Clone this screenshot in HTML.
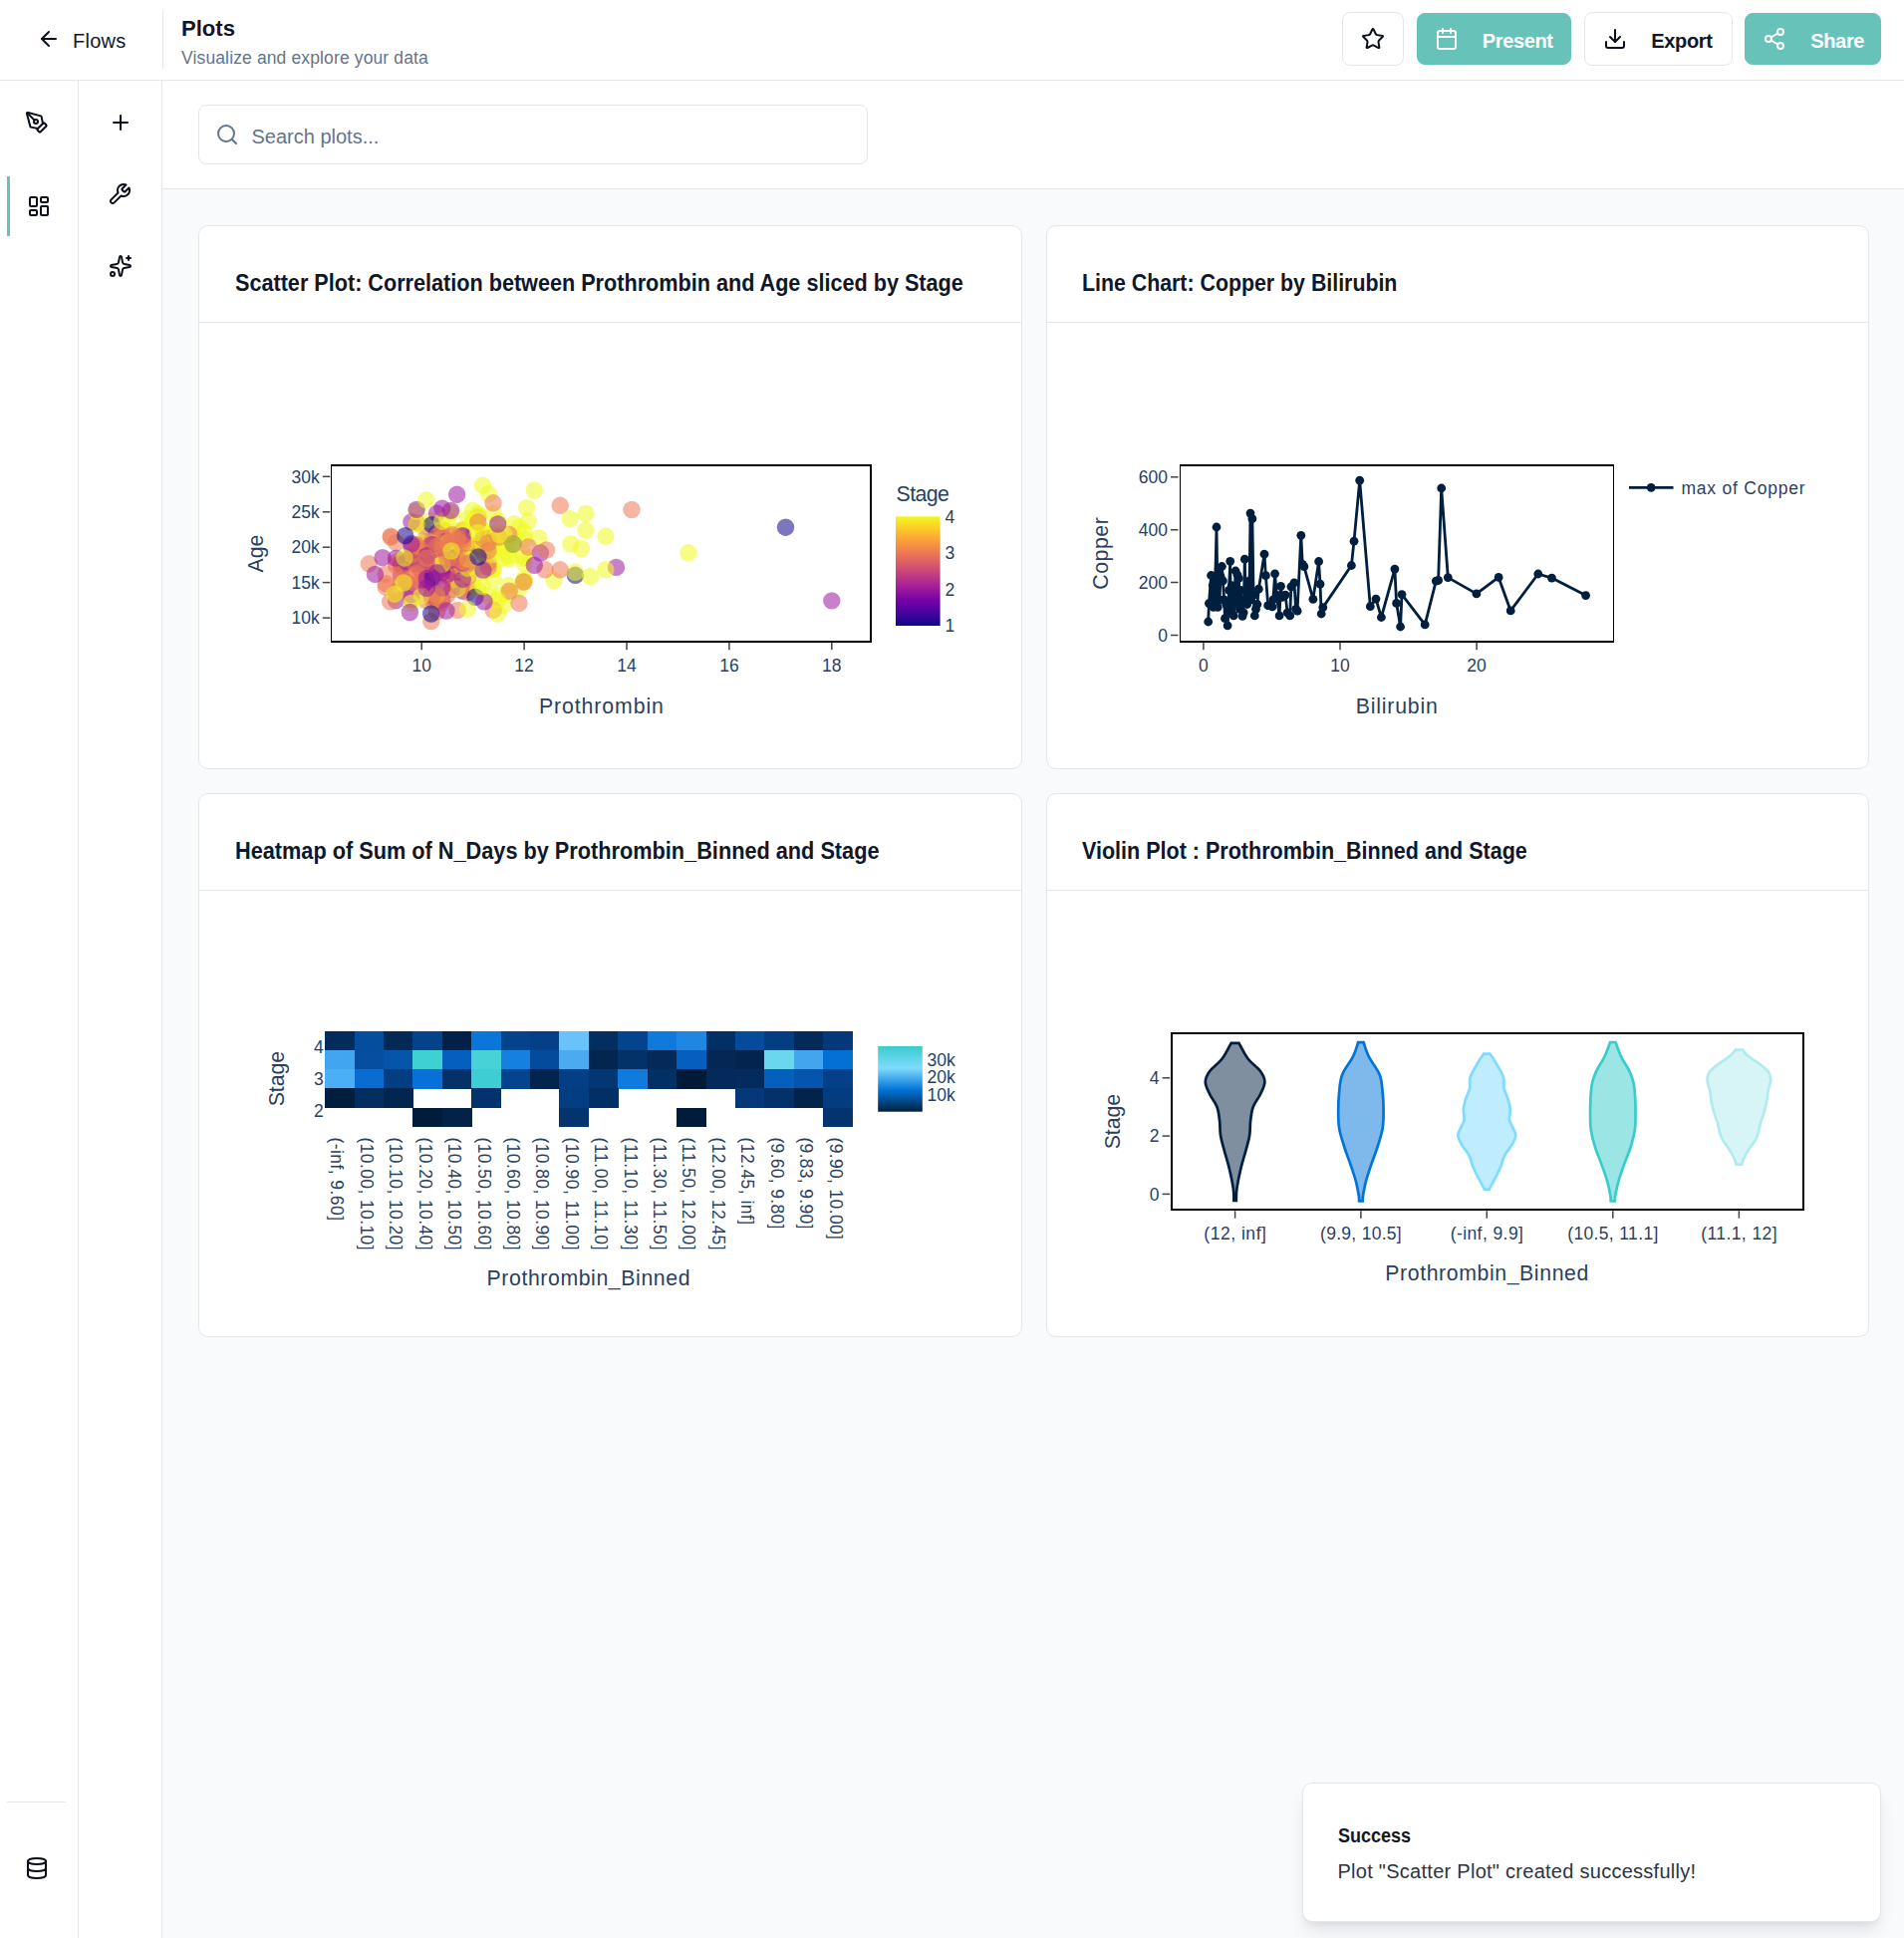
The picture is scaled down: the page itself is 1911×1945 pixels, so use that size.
<!DOCTYPE html>
<html lang="en">
<head>
<meta charset="utf-8">
<title>Plots</title>
<style>
*{box-sizing:border-box;margin:0;padding:0}
html,body{width:1911px;height:1945px;overflow:hidden}
body{position:relative;background:#f9fafb;color:#0f172a;font-family:"Liberation Sans",Arial,sans-serif;-webkit-font-smoothing:antialiased}
.ic{position:absolute;display:block}
.top{position:absolute;left:0;top:0;width:1911px;height:81px;background:#fff;border-bottom:1.25px solid #e5e6e9;z-index:5}
.flows{position:absolute;left:73px;top:29px;font-size:20px;line-height:24px;color:#0f172a;letter-spacing:.27px}
.vdiv{position:absolute;left:163px;top:10px;width:1.25px;height:59px;background:#e5e6e9}
.ptitle{position:absolute;left:181.5px;top:15px;transform-origin:0 50%;transform:scaleX(.98);font-size:22.5px;line-height:28px;font-weight:700;color:#0f172a}
.psub{position:absolute;left:182px;top:47px;font-size:17.5px;line-height:22px;color:#64748b;letter-spacing:.13px;white-space:nowrap}
.btn{position:absolute;top:12px;height:54px;border-radius:8px;font-family:inherit;cursor:pointer}
.btn.ghost{background:#fff;border:1.25px solid #e5e6e9;color:#0f172a}
.btn.teal{background:#67c3b9;border:1.25px solid #67c3b9;color:#fff;top:12.6px;height:52.8px}
.btn.teal .ic{margin-top:-1.85px}
.btn.teal .bl{margin-top:-.6px}
.btn .ic{margin-left:-1.25px;margin-top:-1.25px}
.bl{position:absolute;top:15.7px;font-size:20px;line-height:24px;font-weight:700;white-space:nowrap;margin-left:-1.25px;letter-spacing:-.35px}
.rail{position:absolute;top:81px;height:1864px;background:#fff;border-right:1.25px solid #e5e6e9}
.rail .ic{margin-top:-81px}
.r1{left:0;width:79px}
.r2{left:79px;width:84px}
.active{position:absolute;left:7px;top:96px;width:3px;height:60px;background:#67c3b9}
.sep{position:absolute;left:7px;top:1727px;width:59px;height:1.25px;background:#e5e6e9}
.toolbar{position:absolute;left:163px;top:81px;width:1748px;height:109px;background:#fff;border-bottom:1.25px solid #e5e6e9}
.search{position:absolute;left:36px;top:24px;width:671.5px;height:60px;border:1.25px solid #e5e6e9;border-radius:8px;background:#fff}
.search .ic{margin-left:-1.25px;margin-top:-1.25px}
.ph{position:absolute;left:52.5px;top:18.6px;font-size:20px;line-height:24px;color:#64748b;white-space:nowrap}
.card{position:absolute;width:826.5px;height:546px;background:#fff;border:1.25px solid #e5e6e9;border-radius:10px;overflow:hidden}
.ctitle{position:absolute;left:35.5px;top:42.9px;transform-origin:0 50%;font-size:23px;line-height:28px;font-weight:700;color:#0f172a;white-space:nowrap}
.chead{position:absolute;left:0;top:96px;width:100%;height:1.25px;background:#e5e6e9}
.card svg.plot{position:absolute;left:-1.25px;top:-1.25px;width:826.5px;height:546px;font-family:"Liberation Sans",Arial,sans-serif}
.toast{position:absolute;left:1306.5px;top:1789px;width:581.5px;height:139.5px;background:#fff;border:1.25px solid #e5e6e9;border-radius:10px;box-shadow:0 12px 18px -4px rgba(15,23,42,.10),0 5px 8px -5px rgba(15,23,42,.10)}
.tt{position:absolute;left:35px;top:39.5px;font-size:20px;line-height:24px;font-weight:700;color:#0f172a;transform-origin:0 50%;transform:scaleX(.9)}
.td{position:absolute;left:35px;top:76px;font-size:20px;line-height:24px;color:#2b3342;white-space:nowrap;letter-spacing:.27px}

</style>
</head>
<body>
<header class="top">
<svg class="ic" style="left:37.00px;top:27.20px;width:24px;height:24px" viewBox="0 0 24 24" fill="none" stroke="#0b0f1a" stroke-width="2" stroke-linecap="round" stroke-linejoin="round"><path d="m12 19-7-7 7-7"/><path d="M19 12H5"/></svg>
<span class="flows">Flows</span>
<div class="vdiv"></div>
<h1 class="ptitle">Plots</h1>
<p class="psub">Visualize and explore your data</p>
<button class="btn ghost" style="left:1347px;width:62px"><svg class="ic" style="left:19.00px;top:15.60px;width:24px;height:24px" viewBox="0 0 24 24" fill="none" stroke="#0b0f1a" stroke-width="2" stroke-linecap="round" stroke-linejoin="round"><path d="M11.525 2.295a.53.53 0 0 1 .95 0l2.31 4.679a2.123 2.123 0 0 0 1.595 1.16l5.166.756a.53.53 0 0 1 .294.904l-3.736 3.638a2.123 2.123 0 0 0-.611 1.878l.882 5.14a.53.53 0 0 1-.771.56l-4.618-2.428a2.122 2.122 0 0 0-1.973 0L6.396 21.01a.53.53 0 0 1-.77-.56l.881-5.139a2.122 2.122 0 0 0-.611-1.879L2.16 9.795a.53.53 0 0 1 .294-.906l5.165-.755a2.122 2.122 0 0 0 1.597-1.16z"/></svg></button>
<button class="btn teal" style="left:1422px;width:155px"><svg class="ic" style="left:18.00px;top:15.60px;width:24px;height:24px" viewBox="0 0 24 24" fill="none" stroke="#fff" stroke-width="2" stroke-linecap="round" stroke-linejoin="round"><path d="M8 2v4"/><path d="M16 2v4"/><rect width="18" height="18" x="3" y="4" rx="2"/><path d="M3 10h18"/></svg><span class="bl" style="left:66px">Present</span></button>
<button class="btn ghost" style="left:1590px;width:149px"><svg class="ic" style="left:19.00px;top:15.60px;width:24px;height:24px" viewBox="0 0 24 24" fill="none" stroke="#0b0f1a" stroke-width="2" stroke-linecap="round" stroke-linejoin="round"><path d="M21 15v4a2 2 0 0 1-2 2H5a2 2 0 0 1-2-2v-4"/><path d="m7 10 5 5 5-5"/><path d="M12 15V3"/></svg><span class="bl" style="left:67.5px">Export</span></button>
<button class="btn teal" style="left:1751px;width:137px"><svg class="ic" style="left:18.00px;top:15.60px;width:24px;height:24px" viewBox="0 0 24 24" fill="none" stroke="#fff" stroke-width="2" stroke-linecap="round" stroke-linejoin="round"><circle cx="18" cy="5" r="3"/><circle cx="6" cy="12" r="3"/><circle cx="18" cy="19" r="3"/><path d="m8.59 13.51 6.83 3.98"/><path d="m15.41 6.51-6.82 3.98"/></svg><span class="bl" style="left:66.5px">Share</span></button>
</header>
<aside class="rail r1">
<svg class="ic" style="left:25.00px;top:111.00px;width:24px;height:24px" viewBox="0 0 24 24" fill="none" stroke="#0b0f1a" stroke-width="2" stroke-linecap="round" stroke-linejoin="round"><path d="M15.707 21.293a1 1 0 0 1-1.414 0l-1.586-1.586a1 1 0 0 1 0-1.414l5.586-5.586a1 1 0 0 1 1.414 0l1.586 1.586a1 1 0 0 1 0 1.414z"/><path d="m18 13-1.375-6.874a1 1 0 0 0-.746-.776L3.235 2.028a1 1 0 0 0-1.207 1.207L5.35 15.879a1 1 0 0 0 .776.746L13 18"/><path d="m2.3 2.3 7.286 7.286"/><circle cx="11" cy="11" r="2"/></svg>
<div class="active"></div>
<svg class="ic" style="left:27.00px;top:195.00px;width:24px;height:24px" viewBox="0 0 24 24" fill="none" stroke="#0b0f1a" stroke-width="2" stroke-linecap="round" stroke-linejoin="round"><rect width="7" height="9" x="3" y="3" rx="1"/><rect width="7" height="5" x="14" y="3" rx="1"/><rect width="7" height="9" x="14" y="12" rx="1"/><rect width="7" height="5" x="3" y="16" rx="1"/></svg>
<div class="sep"></div>
<svg class="ic" style="left:25.00px;top:1863.00px;width:24px;height:24px" viewBox="0 0 24 24" fill="none" stroke="#0b0f1a" stroke-width="2" stroke-linecap="round" stroke-linejoin="round"><ellipse cx="12" cy="5" rx="9" ry="3"/><path d="M3 5V19A9 3 0 0 0 21 19V5"/><path d="M3 12A9 3 0 0 0 21 12"/></svg>
</aside>
<aside class="rail r2">
<svg class="ic" style="left:30.00px;top:111.00px;width:24px;height:24px" viewBox="0 0 24 24" fill="none" stroke="#0b0f1a" stroke-width="2" stroke-linecap="round" stroke-linejoin="round"><path d="M5 12h14"/><path d="M12 5v14"/></svg>
<svg class="ic" style="left:29.30px;top:183.20px;width:24px;height:24px" viewBox="0 0 24 24" fill="none" stroke="#0b0f1a" stroke-width="2" stroke-linecap="round" stroke-linejoin="round"><path d="M14.7 6.3a1 1 0 0 0 0 1.4l1.6 1.6a1 1 0 0 0 1.4 0l3.77-3.77a6 6 0 0 1-7.94 7.94l-6.91 6.91a2.12 2.12 0 0 1-3-3l6.91-6.91a6 6 0 0 1 7.94-7.94l-3.76 3.76z"/></svg>
<svg class="ic" style="left:30.00px;top:255.20px;width:24px;height:24px" viewBox="0 0 24 24" fill="none" stroke="#0b0f1a" stroke-width="2" stroke-linecap="round" stroke-linejoin="round"><path d="M11.017 2.814a1 1 0 0 1 1.966 0l1.051 5.558a2 2 0 0 0 1.594 1.594l5.558 1.051a1 1 0 0 1 0 1.966l-5.558 1.051a2 2 0 0 0-1.594 1.594l-1.051 5.558a1 1 0 0 1-1.966 0l-1.051-5.558a2 2 0 0 0-1.594-1.594l-5.558-1.051a1 1 0 0 1 0-1.966l5.558-1.051a2 2 0 0 0 1.594-1.594z"/><path d="M20 2v4"/><path d="M22 4h-4"/><circle cx="4" cy="20" r="2"/></svg>
</aside>
<div class="toolbar">
<div class="search"><svg class="ic" style="left:17.50px;top:18.00px;width:24px;height:24px" viewBox="0 0 24 24" fill="none" stroke="#64748b" stroke-width="2" stroke-linecap="round" stroke-linejoin="round"><circle cx="11" cy="11" r="8"/><path d="m21 21-4.3-4.3"/></svg><span class="ph">Search plots...</span></div>
</div>
<main>
<section class="card" style="left:199px;top:226px">
<h3 class="ctitle" style="transform:scaleX(0.94)">Scatter Plot: Correlation between Prothrombin and Age sliced by Stage</h3>
<div class="chead"></div>
<svg class="plot" viewBox="0 0 826.5 546" role="img" aria-label="Scatter plot of Age against Prothrombin coloured by Stage"><g transform="translate(-199,-226)"><clipPath id="sc"><rect x="332.5" y="467" width="541.8" height="176.60000000000002"/></clipPath><g clip-path="url(#sc)" fill-opacity="0.55"><circle cx="454.1" cy="564.7" r="8.7" fill="#f0f921"/><circle cx="505.5" cy="560.1" r="8.7" fill="#f0f921"/><circle cx="526.1" cy="583.1" r="8.7" fill="#f0f921"/><circle cx="407.8" cy="571.4" r="8.7" fill="#f0f921"/><circle cx="505.5" cy="607.3" r="8.7" fill="#f0f921"/><circle cx="464.4" cy="540.3" r="8.7" fill="#f0f921"/><circle cx="500.4" cy="523.2" r="8.7" fill="#f0f921"/><circle cx="510.7" cy="596.2" r="8.7" fill="#f0f921"/><circle cx="495.2" cy="515.5" r="8.7" fill="#f0f921"/><circle cx="464.4" cy="555.3" r="8.7" fill="#f0f921"/><circle cx="521" cy="590.7" r="8.7" fill="#f0f921"/><circle cx="464.4" cy="533" r="8.7" fill="#f0f921"/><circle cx="495.2" cy="570.7" r="8.7" fill="#f0f921"/><circle cx="464.4" cy="553.9" r="8.7" fill="#f0f921"/><circle cx="495.2" cy="571.6" r="8.7" fill="#f0f921"/><circle cx="454.1" cy="584.6" r="8.7" fill="#ed7953"/><circle cx="474.6" cy="571.9" r="8.7" fill="#ed7953"/><circle cx="448.9" cy="532.8" r="8.7" fill="#f0f921"/><circle cx="515.8" cy="539.1" r="8.7" fill="#f0f921"/><circle cx="443.8" cy="558.5" r="8.7" fill="#f0f921"/><circle cx="464.4" cy="565.6" r="8.7" fill="#ed7953"/><circle cx="438.6" cy="562.1" r="8.7" fill="#ed7953"/><circle cx="423.2" cy="588.3" r="8.7" fill="#ed7953"/><circle cx="428.3" cy="572.1" r="8.7" fill="#9c179e"/><circle cx="443.8" cy="544.4" r="8.7" fill="#ed7953"/><circle cx="454.1" cy="591.5" r="8.7" fill="#ed7953"/><circle cx="464.4" cy="593.2" r="8.7" fill="#9c179e"/><circle cx="454.1" cy="571.2" r="8.7" fill="#ed7953"/><circle cx="484.9" cy="540" r="8.7" fill="#f0f921"/><circle cx="443.8" cy="552.5" r="8.7" fill="#ed7953"/><circle cx="479.8" cy="548.9" r="8.7" fill="#ed7953"/><circle cx="510.7" cy="544.4" r="8.7" fill="#f0f921"/><circle cx="464.4" cy="531.9" r="8.7" fill="#ed7953"/><circle cx="397.5" cy="564.7" r="8.7" fill="#ed7953"/><circle cx="402.6" cy="565.3" r="8.7" fill="#9c179e"/><circle cx="526.1" cy="534.4" r="8.7" fill="#f0f921"/><circle cx="490.1" cy="536.8" r="8.7" fill="#f0f921"/><circle cx="500.4" cy="547.7" r="8.7" fill="#f0f921"/><circle cx="402.6" cy="576.6" r="8.7" fill="#9c179e"/><circle cx="490.1" cy="544.8" r="8.7" fill="#f0f921"/><circle cx="423.2" cy="572.1" r="8.7" fill="#9c179e"/><circle cx="526.1" cy="580.6" r="8.7" fill="#f0f921"/><circle cx="495.2" cy="544.5" r="8.7" fill="#f0f921"/><circle cx="443.8" cy="550.5" r="8.7" fill="#9c179e"/><circle cx="474.6" cy="586.8" r="8.7" fill="#f0f921"/><circle cx="433.5" cy="522.2" r="8.7" fill="#f0f921"/><circle cx="526.1" cy="583.3" r="8.7" fill="#f0f921"/><circle cx="510.7" cy="587.7" r="8.7" fill="#f0f921"/><circle cx="428.3" cy="557.5" r="8.7" fill="#9c179e"/><circle cx="526.1" cy="560.1" r="8.7" fill="#f0f921"/><circle cx="459.2" cy="581.2" r="8.7" fill="#f0f921"/><circle cx="459.2" cy="566.1" r="8.7" fill="#0d0887"/><circle cx="459.2" cy="575.6" r="8.7" fill="#9c179e"/><circle cx="484.9" cy="574.5" r="8.7" fill="#f0f921"/><circle cx="412.9" cy="559" r="8.7" fill="#9c179e"/><circle cx="433.5" cy="591.8" r="8.7" fill="#ed7953"/><circle cx="526.1" cy="541" r="8.7" fill="#f0f921"/><circle cx="459.2" cy="557.6" r="8.7" fill="#ed7953"/><circle cx="464.4" cy="573.4" r="8.7" fill="#ed7953"/><circle cx="479.8" cy="530.5" r="8.7" fill="#f0f921"/><circle cx="459.2" cy="564.2" r="8.7" fill="#9c179e"/><circle cx="454.1" cy="555.1" r="8.7" fill="#f0f921"/><circle cx="490.1" cy="539.5" r="8.7" fill="#f0f921"/><circle cx="392.3" cy="539.1" r="8.7" fill="#ed7953"/><circle cx="469.5" cy="589.4" r="8.7" fill="#ed7953"/><circle cx="443.8" cy="571.3" r="8.7" fill="#ed7953"/><circle cx="402.6" cy="583" r="8.7" fill="#ed7953"/><circle cx="423.2" cy="526.8" r="8.7" fill="#f0f921"/><circle cx="428.3" cy="572.1" r="8.7" fill="#9c179e"/><circle cx="454.1" cy="574.6" r="8.7" fill="#f0f921"/><circle cx="433.5" cy="545.5" r="8.7" fill="#ed7953"/><circle cx="407.8" cy="590" r="8.7" fill="#9c179e"/><circle cx="428.3" cy="543.1" r="8.7" fill="#ed7953"/><circle cx="459.2" cy="588.6" r="8.7" fill="#9c179e"/><circle cx="438.6" cy="567" r="8.7" fill="#ed7953"/><circle cx="412.9" cy="601.5" r="8.7" fill="#ed7953"/><circle cx="448.9" cy="578.2" r="8.7" fill="#ed7953"/><circle cx="428.3" cy="538.1" r="8.7" fill="#ed7953"/><circle cx="469.5" cy="581.1" r="8.7" fill="#ed7953"/><circle cx="454.1" cy="582.2" r="8.7" fill="#ed7953"/><circle cx="490.1" cy="553.9" r="8.7" fill="#f0f921"/><circle cx="438.6" cy="599.3" r="8.7" fill="#ed7953"/><circle cx="448.9" cy="576" r="8.7" fill="#9c179e"/><circle cx="464.4" cy="552.1" r="8.7" fill="#ed7953"/><circle cx="412.9" cy="596.5" r="8.7" fill="#9c179e"/><circle cx="469.5" cy="546.2" r="8.7" fill="#f0f921"/><circle cx="510.7" cy="551.2" r="8.7" fill="#f0f921"/><circle cx="464.4" cy="561.6" r="8.7" fill="#f0f921"/><circle cx="423.2" cy="564.3" r="8.7" fill="#9c179e"/><circle cx="443.8" cy="601.9" r="8.7" fill="#9c179e"/><circle cx="438.6" cy="515.2" r="8.7" fill="#9c179e"/><circle cx="510.7" cy="547.2" r="8.7" fill="#f0f921"/><circle cx="428.3" cy="551.3" r="8.7" fill="#ed7953"/><circle cx="418.1" cy="524.8" r="8.7" fill="#ed7953"/><circle cx="469.5" cy="594.6" r="8.7" fill="#ed7953"/><circle cx="474.6" cy="512.2" r="8.7" fill="#f0f921"/><circle cx="402.6" cy="561.8" r="8.7" fill="#f0f921"/><circle cx="433.5" cy="597" r="8.7" fill="#9c179e"/><circle cx="479.8" cy="548.2" r="8.7" fill="#f0f921"/><circle cx="479.8" cy="547.7" r="8.7" fill="#ed7953"/><circle cx="459.2" cy="542.4" r="8.7" fill="#ed7953"/><circle cx="479.8" cy="518.8" r="8.7" fill="#ed7953"/><circle cx="397.5" cy="602.7" r="8.7" fill="#9c179e"/><circle cx="438.6" cy="534.9" r="8.7" fill="#9c179e"/><circle cx="469.5" cy="545.4" r="8.7" fill="#ed7953"/><circle cx="484.9" cy="538.8" r="8.7" fill="#f0f921"/><circle cx="433.5" cy="526.7" r="8.7" fill="#0d0887"/><circle cx="484.9" cy="553.4" r="8.7" fill="#f0f921"/><circle cx="459.2" cy="563.4" r="8.7" fill="#f0f921"/><circle cx="484.9" cy="532.6" r="8.7" fill="#f0f921"/><circle cx="490.1" cy="565.1" r="8.7" fill="#ed7953"/><circle cx="438.6" cy="538.2" r="8.7" fill="#ed7953"/><circle cx="433.5" cy="559" r="8.7" fill="#9c179e"/><circle cx="484.9" cy="532.2" r="8.7" fill="#f0f921"/><circle cx="521" cy="529.3" r="8.7" fill="#f0f921"/><circle cx="448.9" cy="556.5" r="8.7" fill="#9c179e"/><circle cx="412.9" cy="523.8" r="8.7" fill="#9c179e"/><circle cx="428.3" cy="603" r="8.7" fill="#ed7953"/><circle cx="448.9" cy="544.6" r="8.7" fill="#ed7953"/><circle cx="443.8" cy="552.5" r="8.7" fill="#ed7953"/><circle cx="443.8" cy="531.4" r="8.7" fill="#ed7953"/><circle cx="454.1" cy="561.6" r="8.7" fill="#ed7953"/><circle cx="418.1" cy="526" r="8.7" fill="#f0f921"/><circle cx="526.1" cy="557.5" r="8.7" fill="#f0f921"/><circle cx="407.8" cy="583.7" r="8.7" fill="#ed7953"/><circle cx="459.2" cy="590.6" r="8.7" fill="#f0f921"/><circle cx="490.1" cy="540.3" r="8.7" fill="#ed7953"/><circle cx="443.8" cy="548.4" r="8.7" fill="#9c179e"/><circle cx="443.8" cy="587.9" r="8.7" fill="#ed7953"/><circle cx="443.8" cy="570.2" r="8.7" fill="#9c179e"/><circle cx="515.8" cy="525.8" r="8.7" fill="#f0f921"/><circle cx="454.1" cy="556.3" r="8.7" fill="#ed7953"/><circle cx="443.8" cy="568.4" r="8.7" fill="#9c179e"/><circle cx="484.9" cy="555" r="8.7" fill="#ed7953"/><circle cx="469.5" cy="577" r="8.7" fill="#f0f921"/><circle cx="500.4" cy="597.5" r="8.7" fill="#f0f921"/><circle cx="459.2" cy="553.6" r="8.7" fill="#ed7953"/><circle cx="443.8" cy="604.6" r="8.7" fill="#ed7953"/><circle cx="438.6" cy="578.5" r="8.7" fill="#ed7953"/><circle cx="387.2" cy="589.2" r="8.7" fill="#ed7953"/><circle cx="469.5" cy="564.4" r="8.7" fill="#9c179e"/><circle cx="474.6" cy="523.9" r="8.7" fill="#f0f921"/><circle cx="464.4" cy="536.4" r="8.7" fill="#f0f921"/><circle cx="443.8" cy="561.6" r="8.7" fill="#ed7953"/><circle cx="423.2" cy="582.1" r="8.7" fill="#9c179e"/><circle cx="418.1" cy="586.4" r="8.7" fill="#ed7953"/><circle cx="454.1" cy="514.8" r="8.7" fill="#f0f921"/><circle cx="443.8" cy="538.9" r="8.7" fill="#ed7953"/><circle cx="459.2" cy="567.6" r="8.7" fill="#ed7953"/><circle cx="387.2" cy="585.8" r="8.7" fill="#ed7953"/><circle cx="479.8" cy="515.6" r="8.7" fill="#f0f921"/><circle cx="479.8" cy="517.1" r="8.7" fill="#f0f921"/><circle cx="448.9" cy="557.9" r="8.7" fill="#9c179e"/><circle cx="510.7" cy="561" r="8.7" fill="#f0f921"/><circle cx="423.2" cy="569.5" r="8.7" fill="#ed7953"/><circle cx="464.4" cy="538.3" r="8.7" fill="#9c179e"/><circle cx="448.9" cy="564.8" r="8.7" fill="#ed7953"/><circle cx="438.6" cy="568.2" r="8.7" fill="#f0f921"/><circle cx="474.6" cy="523" r="8.7" fill="#f0f921"/><circle cx="438.6" cy="603.4" r="8.7" fill="#ed7953"/><circle cx="495.2" cy="581.4" r="8.7" fill="#f0f921"/><circle cx="484.9" cy="568" r="8.7" fill="#f0f921"/><circle cx="448.9" cy="597.1" r="8.7" fill="#ed7953"/><circle cx="495.2" cy="552" r="8.7" fill="#f0f921"/><circle cx="428.3" cy="584.7" r="8.7" fill="#9c179e"/><circle cx="412.9" cy="566.6" r="8.7" fill="#ed7953"/><circle cx="464.4" cy="581.3" r="8.7" fill="#9c179e"/><circle cx="448.9" cy="521" r="8.7" fill="#f0f921"/><circle cx="484.9" cy="547.7" r="8.7" fill="#f0f921"/><circle cx="412.9" cy="562.8" r="8.7" fill="#f0f921"/><circle cx="428.3" cy="582.6" r="8.7" fill="#9c179e"/><circle cx="469.5" cy="570.4" r="8.7" fill="#f0f921"/><circle cx="469.5" cy="521" r="8.7" fill="#f0f921"/><circle cx="448.9" cy="542.6" r="8.7" fill="#9c179e"/><circle cx="469.5" cy="543.6" r="8.7" fill="#f0f921"/><circle cx="443.8" cy="548.2" r="8.7" fill="#9c179e"/><circle cx="433.5" cy="598.4" r="8.7" fill="#9c179e"/><circle cx="490.1" cy="597.5" r="8.7" fill="#f0f921"/><circle cx="397.5" cy="594.2" r="8.7" fill="#ed7953"/><circle cx="500.4" cy="534.8" r="8.7" fill="#f0f921"/><circle cx="484.9" cy="540.7" r="8.7" fill="#ed7953"/><circle cx="402.6" cy="567.5" r="8.7" fill="#9c179e"/><circle cx="433.5" cy="579.8" r="8.7" fill="#0d0887"/><circle cx="433.5" cy="544.6" r="8.7" fill="#f0f921"/><circle cx="412.9" cy="561.3" r="8.7" fill="#ed7953"/><circle cx="464.4" cy="565" r="8.7" fill="#9c179e"/><circle cx="454.1" cy="562" r="8.7" fill="#9c179e"/><circle cx="510.7" cy="536.3" r="8.7" fill="#ed7953"/><circle cx="402.6" cy="569.3" r="8.7" fill="#ed7953"/><circle cx="387.2" cy="576.4" r="8.7" fill="#ed7953"/><circle cx="418.1" cy="562.3" r="8.7" fill="#9c179e"/><circle cx="526.1" cy="565.6" r="8.7" fill="#f0f921"/><circle cx="479.8" cy="524" r="8.7" fill="#ed7953"/><circle cx="418.1" cy="513" r="8.7" fill="#f0f921"/><circle cx="428.3" cy="556.1" r="8.7" fill="#f0f921"/><circle cx="428.3" cy="566.3" r="8.7" fill="#9c179e"/><circle cx="423.2" cy="544.7" r="8.7" fill="#f0f921"/><circle cx="423.2" cy="559.6" r="8.7" fill="#0d0887"/><circle cx="438.6" cy="547.1" r="8.7" fill="#ed7953"/><circle cx="505.5" cy="535.9" r="8.7" fill="#f0f921"/><circle cx="490.1" cy="569.4" r="8.7" fill="#ed7953"/><circle cx="438.6" cy="596.9" r="8.7" fill="#f0f921"/><circle cx="448.9" cy="544.6" r="8.7" fill="#f0f921"/><circle cx="443.8" cy="590" r="8.7" fill="#9c179e"/><circle cx="464.4" cy="541.7" r="8.7" fill="#ed7953"/><circle cx="392.3" cy="538.2" r="8.7" fill="#ed7953"/><circle cx="495.2" cy="556.6" r="8.7" fill="#f0f921"/><circle cx="464.4" cy="563.5" r="8.7" fill="#ed7953"/><circle cx="433.5" cy="602.1" r="8.7" fill="#ed7953"/><circle cx="443.8" cy="574.5" r="8.7" fill="#9c179e"/><circle cx="428.3" cy="564.7" r="8.7" fill="#9c179e"/><circle cx="433.5" cy="543.3" r="8.7" fill="#ed7953"/><circle cx="490.1" cy="546.4" r="8.7" fill="#f0f921"/><circle cx="412.9" cy="605.2" r="8.7" fill="#f0f921"/><circle cx="402.6" cy="581.9" r="8.7" fill="#ed7953"/><circle cx="454.1" cy="538.6" r="8.7" fill="#ed7953"/><circle cx="459.2" cy="532.1" r="8.7" fill="#f0f921"/><circle cx="459.2" cy="612.4" r="8.7" fill="#ed7953"/><circle cx="443.8" cy="523.2" r="8.7" fill="#f0f921"/><circle cx="464.4" cy="537.6" r="8.7" fill="#9c179e"/><circle cx="479.8" cy="534.5" r="8.7" fill="#f0f921"/><circle cx="397.5" cy="594.6" r="8.7" fill="#ed7953"/><circle cx="438.6" cy="613.9" r="8.7" fill="#ed7953"/><circle cx="495.2" cy="535.3" r="8.7" fill="#f0f921"/><circle cx="412.9" cy="548" r="8.7" fill="#9c179e"/><circle cx="423.2" cy="598.1" r="8.7" fill="#f0f921"/><circle cx="510.7" cy="557.5" r="8.7" fill="#f0f921"/><circle cx="438.6" cy="599.2" r="8.7" fill="#ed7953"/><circle cx="479.8" cy="591.6" r="8.7" fill="#f0f921"/><circle cx="418.1" cy="511.4" r="8.7" fill="#9c179e"/><circle cx="459.2" cy="540" r="8.7" fill="#ed7953"/><circle cx="490.1" cy="545" r="8.7" fill="#ed7953"/><circle cx="423.2" cy="559.4" r="8.7" fill="#ed7953"/><circle cx="469.5" cy="561.1" r="8.7" fill="#f0f921"/><circle cx="397.5" cy="567.6" r="8.7" fill="#ed7953"/><circle cx="433.5" cy="546.4" r="8.7" fill="#9c179e"/><circle cx="443.8" cy="510.1" r="8.7" fill="#9c179e"/><circle cx="443.8" cy="566.3" r="8.7" fill="#f0f921"/><circle cx="484.9" cy="572.3" r="8.7" fill="#9c179e"/><circle cx="407.8" cy="563.9" r="8.7" fill="#9c179e"/><circle cx="418.1" cy="548.1" r="8.7" fill="#ed7953"/><circle cx="412.9" cy="558.8" r="8.7" fill="#9c179e"/><circle cx="428.3" cy="566.2" r="8.7" fill="#ed7953"/><circle cx="495.2" cy="612.3" r="8.7" fill="#ed7953"/><circle cx="423.2" cy="552.6" r="8.7" fill="#ed7953"/><circle cx="418.1" cy="565.8" r="8.7" fill="#9c179e"/><circle cx="469.5" cy="566" r="8.7" fill="#ed7953"/><circle cx="459.2" cy="560.7" r="8.7" fill="#ed7953"/><circle cx="418.1" cy="546.8" r="8.7" fill="#ed7953"/><circle cx="397.5" cy="544.7" r="8.7" fill="#ed7953"/><circle cx="490.1" cy="552.7" r="8.7" fill="#ed7953"/><circle cx="428.3" cy="557.6" r="8.7" fill="#9c179e"/><circle cx="418.1" cy="568.6" r="8.7" fill="#ed7953"/><circle cx="418.1" cy="575.6" r="8.7" fill="#ed7953"/><circle cx="454.1" cy="536.6" r="8.7" fill="#ed7953"/><circle cx="412.9" cy="556.7" r="8.7" fill="#ed7953"/><circle cx="443.8" cy="545.1" r="8.7" fill="#ed7953"/><circle cx="418.1" cy="582.7" r="8.7" fill="#ed7953"/><circle cx="448.9" cy="561.4" r="8.7" fill="#ed7953"/><circle cx="438.6" cy="548.2" r="8.7" fill="#ed7953"/><circle cx="443.8" cy="550.6" r="8.7" fill="#ed7953"/><circle cx="500.4" cy="539" r="8.7" fill="#ed7953"/><circle cx="428.3" cy="560.1" r="8.7" fill="#ed7953"/><circle cx="428.3" cy="590.3" r="8.7" fill="#9c179e"/><circle cx="464.4" cy="546.6" r="8.7" fill="#ed7953"/><circle cx="428.3" cy="580.5" r="8.7" fill="#9c179e"/><circle cx="397.5" cy="560.1" r="8.7" fill="#9c179e"/><circle cx="412.9" cy="545.8" r="8.7" fill="#9c179e"/><circle cx="438.6" cy="574.8" r="8.7" fill="#9c179e"/><circle cx="459.2" cy="542.5" r="8.7" fill="#ed7953"/><circle cx="788.5" cy="529.2" r="8.7" fill="#0d0887"/><circle cx="834.8" cy="602.9" r="8.7" fill="#9c179e"/><circle cx="691" cy="554.8" r="8.7" fill="#f0f921"/><circle cx="634" cy="511.5" r="8.7" fill="#ed7953"/><circle cx="562.2" cy="507.3" r="8.7" fill="#ed7953"/><circle cx="618.5" cy="569.4" r="8.7" fill="#9c179e"/><circle cx="577.4" cy="577.3" r="8.7" fill="#0d0887"/><circle cx="577.4" cy="574.3" r="8.7" fill="#f0f921"/><circle cx="607.9" cy="538.3" r="8.7" fill="#f0f921"/><circle cx="588" cy="515.5" r="8.7" fill="#f0f921"/><circle cx="588" cy="532.2" r="8.7" fill="#f0f921"/><circle cx="572.2" cy="520.7" r="8.7" fill="#f0f921"/><circle cx="572.8" cy="546" r="8.7" fill="#f0f921"/><circle cx="583.5" cy="550.5" r="8.7" fill="#f0f921"/><circle cx="536.3" cy="492" r="8.7" fill="#f0f921"/><circle cx="528.7" cy="509.4" r="8.7" fill="#f0f921"/><circle cx="530.2" cy="523.1" r="8.7" fill="#f0f921"/><circle cx="540.8" cy="539.9" r="8.7" fill="#f0f921"/><circle cx="484.5" cy="487.2" r="8.7" fill="#f0f921"/><circle cx="490.6" cy="495.7" r="8.7" fill="#f0f921"/><circle cx="458.6" cy="496.3" r="8.7" fill="#9c179e"/><circle cx="495" cy="504.8" r="8.7" fill="#ed7953"/><circle cx="452.5" cy="512.4" r="8.7" fill="#9c179e"/><circle cx="428" cy="501.8" r="8.7" fill="#f0f921"/><circle cx="515" cy="546" r="8.7" fill="#0d0887"/><circle cx="515" cy="546" r="8.7" fill="#f0f921"/><circle cx="480" cy="559" r="8.7" fill="#0d0887"/><circle cx="406.8" cy="537.7" r="8.7" fill="#0d0887"/><circle cx="476.9" cy="599.3" r="8.7" fill="#0d0887"/><circle cx="370.3" cy="565.8" r="8.7" fill="#ed7953"/><circle cx="376.4" cy="576.4" r="8.7" fill="#9c179e"/><circle cx="384" cy="559.7" r="8.7" fill="#9c179e"/><circle cx="432.7" cy="623.6" r="8.7" fill="#ed7953"/><circle cx="432.7" cy="616" r="8.7" fill="#0d0887"/><circle cx="499.7" cy="616" r="8.7" fill="#f0f921"/><circle cx="521" cy="605.4" r="8.7" fill="#ed7953"/><circle cx="511.3" cy="593.2" r="8.7" fill="#ed7953"/><circle cx="499.7" cy="602.3" r="8.7" fill="#f0f921"/><circle cx="525.6" cy="584" r="8.7" fill="#ed7953"/><circle cx="556" cy="582.5" r="8.7" fill="#f0f921"/><circle cx="562.2" cy="571.8" r="8.7" fill="#ed7953"/><circle cx="547" cy="571.8" r="8.7" fill="#ed7953"/><circle cx="592.6" cy="578.5" r="8.7" fill="#f0f921"/><circle cx="607.9" cy="571.8" r="8.7" fill="#f0f921"/><circle cx="536.3" cy="567.3" r="8.7" fill="#9c179e"/><circle cx="542.4" cy="555" r="8.7" fill="#9c179e"/><circle cx="530.2" cy="549" r="8.7" fill="#ed7953"/><circle cx="548.5" cy="552" r="8.7" fill="#ed7953"/><circle cx="391.6" cy="603.8" r="8.7" fill="#ed7953"/><circle cx="396" cy="596.2" r="8.7" fill="#f0f921"/><circle cx="411.4" cy="614.5" r="8.7" fill="#9c179e"/><circle cx="448" cy="613" r="8.7" fill="#9c179e"/><circle cx="469.3" cy="611.4" r="8.7" fill="#f0f921"/><circle cx="486" cy="603.8" r="8.7" fill="#9c179e"/><circle cx="484.5" cy="588.6" r="8.7" fill="#f0f921"/><circle cx="501.2" cy="536.8" r="8.7" fill="#f0f921"/><circle cx="499.7" cy="526" r="8.7" fill="#9c179e"/><circle cx="453" cy="553" r="8.7" fill="#f0f921"/><circle cx="406" cy="560" r="8.7" fill="#f0f921"/><circle cx="405" cy="585" r="8.7" fill="#f0f921"/></g><g fill="#000" shape-rendering="crispEdges"><rect x="332" y="466" width="543" height="2"/><rect x="332" y="643" width="543" height="2"/><rect x="332" y="466" width="1.2" height="179"/><rect x="873" y="466" width="2" height="179"/></g><path d="M423.2 644.8v7.5" stroke="#444" stroke-width="1.5"/><text x="423.2" y="673.6" text-anchor="middle" font-size="17.5" fill="#2a3f5f">10</text><path d="M526.1 644.8v7.5" stroke="#444" stroke-width="1.5"/><text x="526.1" y="673.6" text-anchor="middle" font-size="17.5" fill="#2a3f5f">12</text><path d="M629 644.8v7.5" stroke="#444" stroke-width="1.5"/><text x="629" y="673.6" text-anchor="middle" font-size="17.5" fill="#2a3f5f">14</text><path d="M731.9 644.8v7.5" stroke="#444" stroke-width="1.5"/><text x="731.9" y="673.6" text-anchor="middle" font-size="17.5" fill="#2a3f5f">16</text><path d="M834.8 644.8v7.5" stroke="#444" stroke-width="1.5"/><text x="834.8" y="673.6" text-anchor="middle" font-size="17.5" fill="#2a3f5f">18</text><path d="M331.3 478.3h-7.5" stroke="#444" stroke-width="1.5"/><text x="320.8" y="484.5" text-anchor="end" font-size="17.5" fill="#2a3f5f">30k</text><path d="M331.3 513.8h-7.5" stroke="#444" stroke-width="1.5"/><text x="320.8" y="520" text-anchor="end" font-size="17.5" fill="#2a3f5f">25k</text><path d="M331.3 549.2h-7.5" stroke="#444" stroke-width="1.5"/><text x="320.8" y="555.4" text-anchor="end" font-size="17.5" fill="#2a3f5f">20k</text><path d="M331.3 584.6h-7.5" stroke="#444" stroke-width="1.5"/><text x="320.8" y="590.9" text-anchor="end" font-size="17.5" fill="#2a3f5f">15k</text><path d="M331.3 620.1h-7.5" stroke="#444" stroke-width="1.5"/><text x="320.8" y="626.3" text-anchor="end" font-size="17.5" fill="#2a3f5f">10k</text><text x="603.4" y="715.8" text-anchor="middle" font-size="21.25" fill="#2a3f5f" textLength="125" lengthAdjust="spacing">Prothrombin</text><text transform="translate(263.5,555.5) rotate(-90)" text-anchor="middle" font-size="21.25" fill="#2a3f5f">Age</text><defs><linearGradient id="pl" x1="0" y1="1" x2="0" y2="0"><stop offset="0" stop-color="#0d0887"/><stop offset=".111" stop-color="#46039f"/><stop offset=".222" stop-color="#7201a8"/><stop offset=".333" stop-color="#9c179e"/><stop offset=".444" stop-color="#bd3786"/><stop offset=".556" stop-color="#d8576b"/><stop offset=".667" stop-color="#ed7953"/><stop offset=".778" stop-color="#fb9f3a"/><stop offset=".889" stop-color="#fdca26"/><stop offset="1" stop-color="#f0f921"/></linearGradient></defs><rect x="899" y="518.3" width="44.6" height="109.7" fill="url(#pl)"/><text x="899.5" y="502.8" font-size="21.25" fill="#2a3f5f" textLength="53.4" lengthAdjust="spacing">Stage</text><text x="948.6" y="524.7" font-size="17.5" fill="#2a3f5f">4</text><text x="948.6" y="561.3" font-size="17.5" fill="#2a3f5f">3</text><text x="948.6" y="597.8" font-size="17.5" fill="#2a3f5f">2</text><text x="948.6" y="634.4" font-size="17.5" fill="#2a3f5f">1</text></g></svg>
</section>
<section class="card" style="left:1049.5px;top:226px">
<h3 class="ctitle" style="transform:scaleX(0.9274)">Line Chart: Copper by Bilirubin</h3>
<div class="chead"></div>
<svg class="plot" viewBox="0 0 826.5 546" role="img" aria-label="Line chart of max Copper by Bilirubin"><g transform="translate(-1049.5,-226)"><path d="M1213.2 624L1213.9 605.6L1216.1 577.5L1216.8 604.2L1217.7 587.6L1218.4 609.4L1219.1 578.2L1219.8 601.8L1221.5 529L1222.7 609.4L1223.6 571.1L1224.6 601.8L1225.5 578.2L1226.9 568.5L1227.9 582.9L1229.1 601.8L1230 620.7L1231.2 606.5L1232.6 627.8L1234 592.4L1235.2 563.3L1235.9 611.3L1236.8 587.6L1237.6 616L1238.7 617.9L1240.6 573L1241.6 601.8L1242.5 577L1243.2 606.5L1243.9 580.5L1244.9 611.3L1245.8 592.4L1247.5 618.4L1248.7 614.8L1249.8 561.2L1251 601.8L1252.2 606.5L1252.9 587.6L1253.9 601.8L1254.6 582.9L1255.5 515.1L1256.2 601.8L1257.4 520.7L1258.6 597.1L1259.8 617.9L1261 611.3L1262.4 606.5L1263.8 591.2L1269.5 556.2L1270.9 577.7L1273.2 607.7L1277.5 608.9L1278.4 601.8L1280.1 575.8L1281.8 597.1L1284.6 617.9L1286 588.3L1287.4 599.4L1290.7 597.1L1292.6 614.8L1295.2 617.9L1296.4 588.8L1299.5 584.8L1301.1 611.3L1302.6 613.2L1306.3 537.3L1307.8 566.4L1309.4 568.7L1318.4 601.3L1324.1 563.5L1325.5 586.2L1326.7 616L1328.3 609.6L1356.9 567.5L1359.5 543.2L1365.2 482.2L1375.8 608.7L1381.5 601.1L1386.9 619.5L1400.4 571.1L1402.1 605.4L1406.1 629L1407.5 596.6L1430.7 626.9L1441.8 583.1L1444.1 582.4L1447.2 490L1453.8 579.6L1482.4 595.9L1504.6 579.4L1516.7 612.9L1544.3 576L1558 580.1L1592.1 597.6" fill="none" stroke="#001f3f" stroke-width="2.8" stroke-linejoin="round"/><g fill="#001f3f"><circle cx="1213.2" cy="624" r="4.4"/><circle cx="1213.9" cy="605.6" r="4.4"/><circle cx="1216.1" cy="577.5" r="4.4"/><circle cx="1216.8" cy="604.2" r="4.4"/><circle cx="1217.7" cy="587.6" r="4.4"/><circle cx="1218.4" cy="609.4" r="4.4"/><circle cx="1219.1" cy="578.2" r="4.4"/><circle cx="1219.8" cy="601.8" r="4.4"/><circle cx="1221.5" cy="529" r="4.4"/><circle cx="1222.7" cy="609.4" r="4.4"/><circle cx="1223.6" cy="571.1" r="4.4"/><circle cx="1224.6" cy="601.8" r="4.4"/><circle cx="1225.5" cy="578.2" r="4.4"/><circle cx="1226.9" cy="568.5" r="4.4"/><circle cx="1227.9" cy="582.9" r="4.4"/><circle cx="1229.1" cy="601.8" r="4.4"/><circle cx="1230" cy="620.7" r="4.4"/><circle cx="1231.2" cy="606.5" r="4.4"/><circle cx="1232.6" cy="627.8" r="4.4"/><circle cx="1234" cy="592.4" r="4.4"/><circle cx="1235.2" cy="563.3" r="4.4"/><circle cx="1235.9" cy="611.3" r="4.4"/><circle cx="1236.8" cy="587.6" r="4.4"/><circle cx="1237.6" cy="616" r="4.4"/><circle cx="1238.7" cy="617.9" r="4.4"/><circle cx="1240.6" cy="573" r="4.4"/><circle cx="1241.6" cy="601.8" r="4.4"/><circle cx="1242.5" cy="577" r="4.4"/><circle cx="1243.2" cy="606.5" r="4.4"/><circle cx="1243.9" cy="580.5" r="4.4"/><circle cx="1244.9" cy="611.3" r="4.4"/><circle cx="1245.8" cy="592.4" r="4.4"/><circle cx="1247.5" cy="618.4" r="4.4"/><circle cx="1248.7" cy="614.8" r="4.4"/><circle cx="1249.8" cy="561.2" r="4.4"/><circle cx="1251" cy="601.8" r="4.4"/><circle cx="1252.2" cy="606.5" r="4.4"/><circle cx="1252.9" cy="587.6" r="4.4"/><circle cx="1253.9" cy="601.8" r="4.4"/><circle cx="1254.6" cy="582.9" r="4.4"/><circle cx="1255.5" cy="515.1" r="4.4"/><circle cx="1256.2" cy="601.8" r="4.4"/><circle cx="1257.4" cy="520.7" r="4.4"/><circle cx="1258.6" cy="597.1" r="4.4"/><circle cx="1259.8" cy="617.9" r="4.4"/><circle cx="1261" cy="611.3" r="4.4"/><circle cx="1262.4" cy="606.5" r="4.4"/><circle cx="1263.8" cy="591.2" r="4.4"/><circle cx="1269.5" cy="556.2" r="4.4"/><circle cx="1270.9" cy="577.7" r="4.4"/><circle cx="1273.2" cy="607.7" r="4.4"/><circle cx="1277.5" cy="608.9" r="4.4"/><circle cx="1278.4" cy="601.8" r="4.4"/><circle cx="1280.1" cy="575.8" r="4.4"/><circle cx="1281.8" cy="597.1" r="4.4"/><circle cx="1284.6" cy="617.9" r="4.4"/><circle cx="1286" cy="588.3" r="4.4"/><circle cx="1287.4" cy="599.4" r="4.4"/><circle cx="1290.7" cy="597.1" r="4.4"/><circle cx="1292.6" cy="614.8" r="4.4"/><circle cx="1295.2" cy="617.9" r="4.4"/><circle cx="1296.4" cy="588.8" r="4.4"/><circle cx="1299.5" cy="584.8" r="4.4"/><circle cx="1301.1" cy="611.3" r="4.4"/><circle cx="1302.6" cy="613.2" r="4.4"/><circle cx="1306.3" cy="537.3" r="4.4"/><circle cx="1307.8" cy="566.4" r="4.4"/><circle cx="1309.4" cy="568.7" r="4.4"/><circle cx="1318.4" cy="601.3" r="4.4"/><circle cx="1324.1" cy="563.5" r="4.4"/><circle cx="1325.5" cy="586.2" r="4.4"/><circle cx="1326.7" cy="616" r="4.4"/><circle cx="1328.3" cy="609.6" r="4.4"/><circle cx="1356.9" cy="567.5" r="4.4"/><circle cx="1359.5" cy="543.2" r="4.4"/><circle cx="1365.2" cy="482.2" r="4.4"/><circle cx="1375.8" cy="608.7" r="4.4"/><circle cx="1381.5" cy="601.1" r="4.4"/><circle cx="1386.9" cy="619.5" r="4.4"/><circle cx="1400.4" cy="571.1" r="4.4"/><circle cx="1402.1" cy="605.4" r="4.4"/><circle cx="1406.1" cy="629" r="4.4"/><circle cx="1407.5" cy="596.6" r="4.4"/><circle cx="1430.7" cy="626.9" r="4.4"/><circle cx="1441.8" cy="583.1" r="4.4"/><circle cx="1444.1" cy="582.4" r="4.4"/><circle cx="1447.2" cy="490" r="4.4"/><circle cx="1453.8" cy="579.6" r="4.4"/><circle cx="1482.4" cy="595.9" r="4.4"/><circle cx="1504.6" cy="579.4" r="4.4"/><circle cx="1516.7" cy="612.9" r="4.4"/><circle cx="1544.3" cy="576" r="4.4"/><circle cx="1558" cy="580.1" r="4.4"/><circle cx="1592.1" cy="597.6" r="4.4"/></g><g fill="#000" shape-rendering="crispEdges"><rect x="1184" y="466" width="436.2" height="2"/><rect x="1184" y="643" width="436.2" height="2"/><rect x="1184" y="466" width="1.2" height="179"/><rect x="1619" y="466" width="1.2" height="179"/></g><path d="M1208.4 644.8v7.5" stroke="#444" stroke-width="1.5"/><text x="1208.4" y="673.6" text-anchor="middle" font-size="17.5" fill="#2a3f5f">0</text><path d="M1345.5 644.8v7.5" stroke="#444" stroke-width="1.5"/><text x="1345.5" y="673.6" text-anchor="middle" font-size="17.5" fill="#2a3f5f">10</text><path d="M1482.6 644.8v7.5" stroke="#444" stroke-width="1.5"/><text x="1482.6" y="673.6" text-anchor="middle" font-size="17.5" fill="#2a3f5f">20</text><path d="M1183 478.8h-7.5" stroke="#444" stroke-width="1.5"/><text x="1172.5" y="485" text-anchor="end" font-size="17.5" fill="#2a3f5f">600</text><path d="M1183 531.7h-7.5" stroke="#444" stroke-width="1.5"/><text x="1172.5" y="537.9" text-anchor="end" font-size="17.5" fill="#2a3f5f">400</text><path d="M1183 584.6h-7.5" stroke="#444" stroke-width="1.5"/><text x="1172.5" y="590.8" text-anchor="end" font-size="17.5" fill="#2a3f5f">200</text><path d="M1183 637.5h-7.5" stroke="#444" stroke-width="1.5"/><text x="1172.5" y="643.7" text-anchor="end" font-size="17.5" fill="#2a3f5f">0</text><text x="1402.3" y="715.8" text-anchor="middle" font-size="21.25" fill="#2a3f5f" textLength="82" lengthAdjust="spacing">Bilirubin</text><text transform="translate(1112.5,555.5) rotate(-90)" text-anchor="middle" font-size="21.25" fill="#2a3f5f" textLength="72.5" lengthAdjust="spacing">Copper</text><path d="M1635.5 489.3H1680" stroke="#001f3f" stroke-width="2.8"/><circle cx="1657.7" cy="489.3" r="4.4" fill="#001f3f"/><text x="1688" y="495.6" font-size="17.5" fill="#2a3f5f" textLength="124" lengthAdjust="spacing">max of Copper</text></g></svg>
</section>
<section class="card" style="left:199px;top:796px">
<h3 class="ctitle" style="transform:scaleX(0.9438)">Heatmap of Sum of N_Days by Prothrombin_Binned and Stage</h3>
<div class="chead"></div>
<svg class="plot" viewBox="0 0 826.5 546" role="img" aria-label="Heatmap of sum of N_Days by Prothrombin_Binned and Stage"><g transform="translate(-199,-796)"><g shape-rendering="crispEdges"><rect x="326.10" y="1034.80" width="29.82" height="19.60" fill="rgb(3,43,92)"/><rect x="355.52" y="1034.80" width="29.82" height="19.60" fill="rgb(5,78,158)"/><rect x="384.93" y="1034.80" width="29.82" height="19.60" fill="rgb(3,42,85)"/><rect x="414.35" y="1034.80" width="29.82" height="19.60" fill="rgb(4,66,138)"/><rect x="443.77" y="1034.80" width="29.82" height="19.60" fill="rgb(2,33,72)"/><rect x="473.18" y="1034.80" width="29.82" height="19.60" fill="rgb(10,118,218)"/><rect x="502.60" y="1034.80" width="29.82" height="19.60" fill="rgb(4,66,140)"/><rect x="532.02" y="1034.80" width="29.82" height="19.60" fill="rgb(4,64,135)"/><rect x="561.43" y="1034.80" width="29.82" height="19.60" fill="rgb(105,195,250)"/><rect x="590.85" y="1034.80" width="29.82" height="19.60" fill="rgb(3,46,96)"/><rect x="620.27" y="1034.80" width="29.82" height="19.60" fill="rgb(4,68,142)"/><rect x="649.68" y="1034.80" width="29.82" height="19.60" fill="rgb(14,122,220)"/><rect x="679.10" y="1034.80" width="29.82" height="19.60" fill="rgb(30,135,225)"/><rect x="708.52" y="1034.80" width="29.82" height="19.60" fill="rgb(3,48,100)"/><rect x="737.93" y="1034.80" width="29.82" height="19.60" fill="rgb(5,75,155)"/><rect x="767.35" y="1034.80" width="29.82" height="19.60" fill="rgb(4,62,130)"/><rect x="796.77" y="1034.80" width="29.82" height="19.60" fill="rgb(3,42,88)"/><rect x="826.18" y="1034.80" width="29.82" height="19.60" fill="rgb(4,56,120)"/><rect x="326.10" y="1054.00" width="29.82" height="19.60" fill="rgb(66,165,240)"/><rect x="355.52" y="1054.00" width="29.82" height="19.60" fill="rgb(5,78,160)"/><rect x="384.93" y="1054.00" width="29.82" height="19.60" fill="rgb(5,85,170)"/><rect x="414.35" y="1054.00" width="29.82" height="19.60" fill="rgb(62,208,210)"/><rect x="443.77" y="1054.00" width="29.82" height="19.60" fill="rgb(5,95,190)"/><rect x="473.18" y="1054.00" width="29.82" height="19.60" fill="rgb(70,210,215)"/><rect x="502.60" y="1054.00" width="29.82" height="19.60" fill="rgb(22,128,225)"/><rect x="532.02" y="1054.00" width="29.82" height="19.60" fill="rgb(5,75,155)"/><rect x="561.43" y="1054.00" width="29.82" height="19.60" fill="rgb(75,170,240)"/><rect x="590.85" y="1054.00" width="29.82" height="19.60" fill="rgb(2,38,80)"/><rect x="620.27" y="1054.00" width="29.82" height="19.60" fill="rgb(3,50,105)"/><rect x="649.68" y="1054.00" width="29.82" height="19.60" fill="rgb(3,42,88)"/><rect x="679.10" y="1054.00" width="29.82" height="19.60" fill="rgb(6,95,190)"/><rect x="708.52" y="1054.00" width="29.82" height="19.60" fill="rgb(3,40,85)"/><rect x="737.93" y="1054.00" width="29.82" height="19.60" fill="rgb(2,36,78)"/><rect x="767.35" y="1054.00" width="29.82" height="19.60" fill="rgb(105,215,238)"/><rect x="796.77" y="1054.00" width="29.82" height="19.60" fill="rgb(66,165,238)"/><rect x="826.18" y="1054.00" width="29.82" height="19.60" fill="rgb(5,112,212)"/><rect x="326.10" y="1073.20" width="29.82" height="19.60" fill="rgb(75,175,245)"/><rect x="355.52" y="1073.20" width="29.82" height="19.60" fill="rgb(8,108,210)"/><rect x="384.93" y="1073.20" width="29.82" height="19.60" fill="rgb(4,62,130)"/><rect x="414.35" y="1073.20" width="29.82" height="19.60" fill="rgb(8,112,215)"/><rect x="443.77" y="1073.20" width="29.82" height="19.60" fill="rgb(3,50,105)"/><rect x="473.18" y="1073.20" width="29.82" height="19.60" fill="rgb(62,205,210)"/><rect x="502.60" y="1073.20" width="29.82" height="19.60" fill="rgb(4,68,142)"/><rect x="532.02" y="1073.20" width="29.82" height="19.60" fill="rgb(2,36,78)"/><rect x="561.43" y="1073.20" width="29.82" height="19.60" fill="rgb(4,62,132)"/><rect x="590.85" y="1073.20" width="29.82" height="19.60" fill="rgb(3,55,115)"/><rect x="620.27" y="1073.20" width="29.82" height="19.60" fill="rgb(16,122,222)"/><rect x="649.68" y="1073.20" width="29.82" height="19.60" fill="rgb(3,48,100)"/><rect x="679.10" y="1073.20" width="29.82" height="19.60" fill="rgb(1,26,55)"/><rect x="708.52" y="1073.20" width="29.82" height="19.60" fill="rgb(3,42,90)"/><rect x="737.93" y="1073.20" width="29.82" height="19.60" fill="rgb(3,44,92)"/><rect x="767.35" y="1073.20" width="29.82" height="19.60" fill="rgb(5,95,188)"/><rect x="796.77" y="1073.20" width="29.82" height="19.60" fill="rgb(5,85,172)"/><rect x="826.18" y="1073.20" width="29.82" height="19.60" fill="rgb(4,64,135)"/><rect x="326.10" y="1092.40" width="29.82" height="19.60" fill="rgb(1,30,62)"/><rect x="355.52" y="1092.40" width="29.82" height="19.60" fill="rgb(3,46,96)"/><rect x="384.93" y="1092.40" width="29.82" height="19.60" fill="rgb(2,38,80)"/><rect x="473.18" y="1092.40" width="29.82" height="19.60" fill="rgb(3,50,108)"/><rect x="561.43" y="1092.40" width="29.82" height="19.60" fill="rgb(4,62,130)"/><rect x="590.85" y="1092.40" width="29.82" height="19.60" fill="rgb(3,48,100)"/><rect x="737.93" y="1092.40" width="29.82" height="19.60" fill="rgb(4,56,120)"/><rect x="767.35" y="1092.40" width="29.82" height="19.60" fill="rgb(3,50,105)"/><rect x="796.77" y="1092.40" width="29.82" height="19.60" fill="rgb(2,36,76)"/><rect x="826.18" y="1092.40" width="29.82" height="19.60" fill="rgb(4,60,128)"/><rect x="414.35" y="1111.60" width="29.82" height="19.60" fill="rgb(1,28,58)"/><rect x="443.77" y="1111.60" width="29.82" height="19.60" fill="rgb(2,34,72)"/><rect x="561.43" y="1111.60" width="29.82" height="19.60" fill="rgb(3,52,110)"/><rect x="679.10" y="1111.60" width="29.82" height="19.60" fill="rgb(1,28,58)"/><rect x="826.18" y="1111.60" width="29.82" height="19.60" fill="rgb(3,52,110)"/></g><text x="324.8" y="1057.2" text-anchor="end" font-size="17.5" fill="#2a3f5f">4</text><text x="324.8" y="1089" text-anchor="end" font-size="17.5" fill="#2a3f5f">3</text><text x="324.8" y="1120.9" text-anchor="end" font-size="17.5" fill="#2a3f5f">2</text><text transform="translate(332.4,1141.5) rotate(90)" font-size="17.5" fill="#2a3f5f" textLength="83.5" lengthAdjust="spacing">(-inf, 9.60]</text><text transform="translate(361.8,1141.5) rotate(90)" font-size="17.5" fill="#2a3f5f" textLength="113.0" lengthAdjust="spacing">(10.00, 10.10]</text><text transform="translate(391.2,1141.5) rotate(90)" font-size="17.5" fill="#2a3f5f" textLength="113.0" lengthAdjust="spacing">(10.10, 10.20]</text><text transform="translate(420.7,1141.5) rotate(90)" font-size="17.5" fill="#2a3f5f" textLength="113.0" lengthAdjust="spacing">(10.20, 10.40]</text><text transform="translate(450.1,1141.5) rotate(90)" font-size="17.5" fill="#2a3f5f" textLength="113.0" lengthAdjust="spacing">(10.40, 10.50]</text><text transform="translate(479.5,1141.5) rotate(90)" font-size="17.5" fill="#2a3f5f" textLength="113.0" lengthAdjust="spacing">(10.50, 10.60]</text><text transform="translate(508.9,1141.5) rotate(90)" font-size="17.5" fill="#2a3f5f" textLength="113.0" lengthAdjust="spacing">(10.60, 10.80]</text><text transform="translate(538.3,1141.5) rotate(90)" font-size="17.5" fill="#2a3f5f" textLength="113.0" lengthAdjust="spacing">(10.80, 10.90]</text><text transform="translate(567.7,1141.5) rotate(90)" font-size="17.5" fill="#2a3f5f" textLength="113.0" lengthAdjust="spacing">(10.90, 11.00]</text><text transform="translate(597.2,1141.5) rotate(90)" font-size="17.5" fill="#2a3f5f" textLength="113.0" lengthAdjust="spacing">(11.00, 11.10]</text><text transform="translate(626.6,1141.5) rotate(90)" font-size="17.5" fill="#2a3f5f" textLength="113.0" lengthAdjust="spacing">(11.10, 11.30]</text><text transform="translate(656.0,1141.5) rotate(90)" font-size="17.5" fill="#2a3f5f" textLength="113.0" lengthAdjust="spacing">(11.30, 11.50]</text><text transform="translate(685.4,1141.5) rotate(90)" font-size="17.5" fill="#2a3f5f" textLength="113.0" lengthAdjust="spacing">(11.50, 12.00]</text><text transform="translate(714.8,1141.5) rotate(90)" font-size="17.5" fill="#2a3f5f" textLength="113.0" lengthAdjust="spacing">(12.00, 12.45]</text><text transform="translate(744.2,1141.5) rotate(90)" font-size="17.5" fill="#2a3f5f" textLength="87.6" lengthAdjust="spacing">(12.45, inf]</text><text transform="translate(773.7,1141.5) rotate(90)" font-size="17.5" fill="#2a3f5f" textLength="91.8" lengthAdjust="spacing">(9.60, 9.80]</text><text transform="translate(803.1,1141.5) rotate(90)" font-size="17.5" fill="#2a3f5f" textLength="91.8" lengthAdjust="spacing">(9.83, 9.90]</text><text transform="translate(832.5,1141.5) rotate(90)" font-size="17.5" fill="#2a3f5f" textLength="102.4" lengthAdjust="spacing">(9.90, 10.00]</text><text x="590.5" y="1289.6" text-anchor="middle" font-size="21.25" fill="#2a3f5f" textLength="204" lengthAdjust="spacing">Prothrombin_Binned</text><text transform="translate(284.5,1082.6) rotate(-90)" text-anchor="middle" font-size="21.25" fill="#2a3f5f">Stage</text><defs><linearGradient id="hm" x1="0" y1="1" x2="0" y2="0"><stop offset="0" stop-color="#001f3f"/><stop offset=".333" stop-color="#0074d9"/><stop offset=".667" stop-color="#7fdbff"/><stop offset="1" stop-color="#39cccc"/></linearGradient></defs><rect x="881.2" y="1050" width="44.6" height="65.7" fill="url(#hm)"/><text x="930.5" y="1069.6" font-size="17.5" fill="#2a3f5f">30k</text><text x="930.5" y="1087.1" font-size="17.5" fill="#2a3f5f">20k</text><text x="930.5" y="1104.6" font-size="17.5" fill="#2a3f5f">10k</text></g></svg>
</section>
<section class="card" style="left:1049.5px;top:796px">
<h3 class="ctitle" style="transform:scaleX(0.9357)">Violin Plot : Prothrombin_Binned and Stage</h3>
<div class="chead"></div>
<svg class="plot" viewBox="0 0 826.5 546" role="img" aria-label="Violin plot of Stage by Prothrombin_Binned"><g transform="translate(-1049.5,-796)"><path d="M1244 1046.8C1245.6 1049.6 1249.1 1057.4 1253 1062.5C1256.9 1067.6 1262.5 1070.8 1265.5 1075C1268.5 1079.2 1269.9 1081.5 1269.9 1085.7C1269.9 1089.9 1267.6 1093.7 1265.5 1098.2C1263.4 1102.7 1260.1 1105.9 1258.3 1110.7C1256.5 1115.5 1256.2 1119.9 1255.6 1125C1255 1130.1 1255.5 1134.2 1254.7 1139.3C1253.9 1144.4 1252.8 1147.5 1251.2 1153.6C1249.6 1159.7 1247.5 1166.1 1245.8 1173.2C1244.1 1180.3 1242.7 1187.2 1241.9 1192.9C1241.1 1198.6 1241.4 1202.8 1241.3 1205L1238.9 1205C1238.8 1202.8 1239.1 1198.6 1238.3 1192.9C1237.5 1187.2 1236.1 1180.3 1234.4 1173.2C1232.7 1166.1 1230.6 1159.7 1229 1153.6C1227.4 1147.5 1226.3 1144.4 1225.5 1139.3C1224.7 1134.2 1225.2 1130.1 1224.6 1125C1224 1119.9 1223.7 1115.5 1221.9 1110.7C1220.1 1105.9 1216.8 1102.7 1214.7 1098.2C1212.6 1093.7 1210.3 1089.9 1210.3 1085.7C1210.3 1081.5 1211.7 1079.2 1214.7 1075C1217.7 1070.8 1223.3 1067.6 1227.2 1062.5C1231.1 1057.4 1234.6 1049.6 1236.2 1046.8Z" fill="#001f3f" fill-opacity="0.5" stroke="#001f3f" stroke-width="2.7" stroke-linejoin="miter"/><path d="M1369.1 1046.1C1370.1 1048.7 1371.5 1054.9 1374.4 1060.7C1377.3 1066.5 1382.7 1072.2 1385.2 1078.6C1387.6 1085 1387.5 1090 1388.2 1096.4C1388.9 1102.8 1389.1 1107.9 1389.1 1114.3C1389.1 1120.7 1389.2 1125.7 1388.2 1132.1C1387.2 1138.5 1385.4 1143.6 1383.4 1150C1381.4 1156.4 1379.3 1161.5 1377.1 1167.9C1374.9 1174.3 1372.9 1179.9 1371.4 1185.7C1369.9 1191.5 1369.1 1196.5 1368.5 1200C1367.9 1203.5 1368.3 1204.4 1368.2 1205.4L1364.6 1205.4C1364.5 1204.4 1364.9 1203.5 1364.3 1200C1363.7 1196.5 1362.9 1191.5 1361.4 1185.7C1359.9 1179.9 1357.9 1174.3 1355.7 1167.9C1353.5 1161.5 1351.4 1156.4 1349.4 1150C1347.4 1143.6 1345.6 1138.5 1344.6 1132.1C1343.6 1125.7 1343.7 1120.7 1343.7 1114.3C1343.7 1107.9 1343.9 1102.8 1344.6 1096.4C1345.3 1090 1345.2 1085 1347.7 1078.6C1350.1 1072.2 1355.5 1066.5 1358.4 1060.7C1361.3 1054.9 1362.7 1048.7 1363.7 1046.1Z" fill="#0074d9" fill-opacity="0.5" stroke="#0074d9" stroke-width="2.7" stroke-linejoin="miter"/><path d="M1496 1057.6C1497.3 1059.7 1500.9 1064.8 1503.3 1069.1C1505.7 1073.4 1508.4 1077.5 1509.6 1081.7C1510.8 1085.9 1509.2 1088.4 1510 1092.2C1510.8 1096 1512.7 1098.9 1513.8 1102.7C1514.9 1106.5 1516 1109.4 1516.3 1113.2C1516.6 1117 1515 1120.3 1515.5 1123.7C1516 1127.1 1518 1129.3 1519.1 1132.1C1520.2 1134.9 1522 1136.5 1521.8 1139.5C1521.6 1142.5 1520 1145.3 1518 1148.9C1516 1152.5 1512.7 1155.7 1510.7 1159.5C1508.7 1163.3 1508.6 1166.2 1507.1 1170C1505.6 1173.8 1504.3 1176.5 1502.3 1180.5C1500.3 1184.5 1497.2 1189.6 1496 1192C1494.8 1194.4 1495.5 1193.4 1495.4 1193.7L1490.2 1193.7C1490.1 1193.4 1490.8 1194.4 1489.6 1192C1488.4 1189.6 1485.3 1184.5 1483.3 1180.5C1481.3 1176.5 1480 1173.8 1478.5 1170C1477 1166.2 1476.9 1163.3 1474.9 1159.5C1472.9 1155.7 1469.6 1152.5 1467.6 1148.9C1465.6 1145.3 1464 1142.5 1463.8 1139.5C1463.6 1136.5 1465.4 1134.9 1466.5 1132.1C1467.6 1129.3 1469.6 1127.1 1470.1 1123.7C1470.6 1120.3 1469 1117 1469.3 1113.2C1469.6 1109.4 1470.7 1106.5 1471.8 1102.7C1472.9 1098.9 1474.8 1096 1475.6 1092.2C1476.4 1088.4 1474.8 1085.9 1476 1081.7C1477.2 1077.5 1479.9 1073.4 1482.3 1069.1C1484.7 1064.8 1488.3 1059.7 1489.6 1057.6Z" fill="#7fdbff" fill-opacity="0.5" stroke="#7fdbff" stroke-width="2.7" stroke-linejoin="miter"/><path d="M1622 1046C1623 1048.6 1625.2 1055.4 1627.7 1060.7C1630.2 1066 1633.8 1070.5 1636.1 1075.4C1638.4 1080.3 1639.3 1082.7 1640.3 1088C1641.3 1093.3 1641.5 1099.1 1641.8 1104.8C1642.1 1110.5 1642.1 1114.2 1642 1119.5C1641.9 1124.8 1642.2 1128.5 1641.3 1134.2C1640.4 1139.9 1639.1 1144.9 1637.2 1151C1635.3 1157.1 1633.1 1161.8 1630.9 1167.9C1628.7 1174 1626.8 1179 1625.2 1184.7C1623.6 1190.4 1622.5 1195.7 1621.8 1199.4C1621.1 1203.1 1621.5 1204.2 1621.4 1205.3L1617.2 1205.3C1617.1 1204.2 1617.5 1203.1 1616.8 1199.4C1616.1 1195.7 1615 1190.4 1613.4 1184.7C1611.8 1179 1609.9 1174 1607.7 1167.9C1605.5 1161.8 1603.3 1157.1 1601.4 1151C1599.5 1144.9 1598.2 1139.9 1597.3 1134.2C1596.4 1128.5 1596.7 1124.8 1596.6 1119.5C1596.5 1114.2 1596.5 1110.5 1596.8 1104.8C1597.1 1099.1 1597.3 1093.3 1598.3 1088C1599.3 1082.7 1600.2 1080.3 1602.5 1075.4C1604.8 1070.5 1608.4 1066 1610.9 1060.7C1613.4 1055.4 1615.6 1048.6 1616.6 1046Z" fill="#39cccc" fill-opacity="0.5" stroke="#39cccc" stroke-width="2.7" stroke-linejoin="miter"/><path d="M1749.5 1053.7C1750.3 1054.6 1751.6 1056.8 1753.8 1058.8C1756 1060.8 1758.9 1062.5 1761.8 1064.6C1764.7 1066.7 1767.2 1068.2 1769.7 1070.3C1772.2 1072.4 1774.1 1074 1775.5 1076.1C1776.9 1078.2 1777.4 1080 1777.7 1081.9C1778 1083.8 1777.8 1084.6 1777.3 1086.9C1776.8 1089.2 1775.7 1091.6 1775.1 1094.9C1774.5 1098.2 1774.4 1101.2 1773.7 1105C1773 1108.8 1772.3 1111.9 1771.2 1115.8C1770.1 1119.7 1768.7 1122.8 1767.6 1126.7C1766.5 1130.6 1766 1134.3 1765 1137.5C1764 1140.7 1763.6 1142.1 1762.1 1144.7C1760.6 1147.3 1758.4 1149.3 1756.7 1151.9C1755 1154.5 1753.7 1156.7 1752.4 1159.2C1751.1 1161.7 1750.1 1164 1749.5 1165.7C1748.9 1167.4 1748.9 1168.1 1748.8 1168.6L1743 1168.6C1742.9 1168.1 1742.9 1167.4 1742.3 1165.7C1741.7 1164 1740.7 1161.7 1739.4 1159.2C1738.1 1156.7 1736.8 1154.5 1735.1 1151.9C1733.4 1149.3 1731.2 1147.3 1729.7 1144.7C1728.2 1142.1 1727.8 1140.7 1726.8 1137.5C1725.8 1134.3 1725.3 1130.6 1724.2 1126.7C1723.1 1122.8 1721.7 1119.7 1720.6 1115.8C1719.5 1111.9 1718.8 1108.8 1718.1 1105C1717.4 1101.2 1717.3 1098.2 1716.7 1094.9C1716.1 1091.6 1715 1089.2 1714.5 1086.9C1714 1084.6 1713.8 1083.8 1714.1 1081.9C1714.4 1080 1714.9 1078.2 1716.3 1076.1C1717.7 1074 1719.6 1072.4 1722.1 1070.3C1724.6 1068.2 1727.1 1066.7 1730 1064.6C1732.9 1062.5 1735.8 1060.8 1738 1058.8C1740.2 1056.8 1741.5 1054.6 1742.3 1053.7Z" fill="#b0ecee" fill-opacity="0.5" stroke="#b0ecee" stroke-width="2.7" stroke-linejoin="miter"/><g fill="#000" shape-rendering="crispEdges"><rect x="1175" y="1036" width="636.2" height="2.2"/><rect x="1175" y="1213" width="636.2" height="2.2"/><rect x="1175" y="1036" width="2.2" height="179.2"/><rect x="1809" y="1036" width="2.2" height="179.2"/></g><path d="M1240.1 1215.2v7.5" stroke="#444" stroke-width="1.5"/><text x="1240.1" y="1244.4" text-anchor="middle" font-size="17.5" fill="#2a3f5f" textLength="62.6" lengthAdjust="spacing">(12, inf]</text><path d="M1366.4 1215.2v7.5" stroke="#444" stroke-width="1.5"/><text x="1366.4" y="1244.4" text-anchor="middle" font-size="17.5" fill="#2a3f5f" textLength="81.6" lengthAdjust="spacing">(9.9, 10.5]</text><path d="M1492.8 1215.2v7.5" stroke="#444" stroke-width="1.5"/><text x="1492.8" y="1244.4" text-anchor="middle" font-size="17.5" fill="#2a3f5f" textLength="73.2" lengthAdjust="spacing">(-inf, 9.9]</text><path d="M1619.3 1215.2v7.5" stroke="#444" stroke-width="1.5"/><text x="1619.3" y="1244.4" text-anchor="middle" font-size="17.5" fill="#2a3f5f" textLength="91.2" lengthAdjust="spacing">(10.5, 11.1]</text><path d="M1745.9 1215.2v7.5" stroke="#444" stroke-width="1.5"/><text x="1745.9" y="1244.4" text-anchor="middle" font-size="17.5" fill="#2a3f5f" textLength="76.4" lengthAdjust="spacing">(11.1, 12]</text><path d="M1174.6 1081.8h-7.5" stroke="#444" stroke-width="1.5"/><text x="1164" y="1088" text-anchor="end" font-size="17.5" fill="#2a3f5f">4</text><path d="M1174.6 1140.1h-7.5" stroke="#444" stroke-width="1.5"/><text x="1164" y="1146.3" text-anchor="end" font-size="17.5" fill="#2a3f5f">2</text><path d="M1174.6 1198.4h-7.5" stroke="#444" stroke-width="1.5"/><text x="1164" y="1204.6" text-anchor="end" font-size="17.5" fill="#2a3f5f">0</text><text x="1492.8" y="1285.4" text-anchor="middle" font-size="21.25" fill="#2a3f5f" textLength="204" lengthAdjust="spacing">Prothrombin_Binned</text><text transform="translate(1124.5,1125.6) rotate(-90)" text-anchor="middle" font-size="21.25" fill="#2a3f5f">Stage</text></g></svg>
</section>
</main>
<div class="toast">
<div class="tt">Success</div>
<div class="td">Plot "Scatter Plot" created successfully!</div>
</div>
</body>
</html>
